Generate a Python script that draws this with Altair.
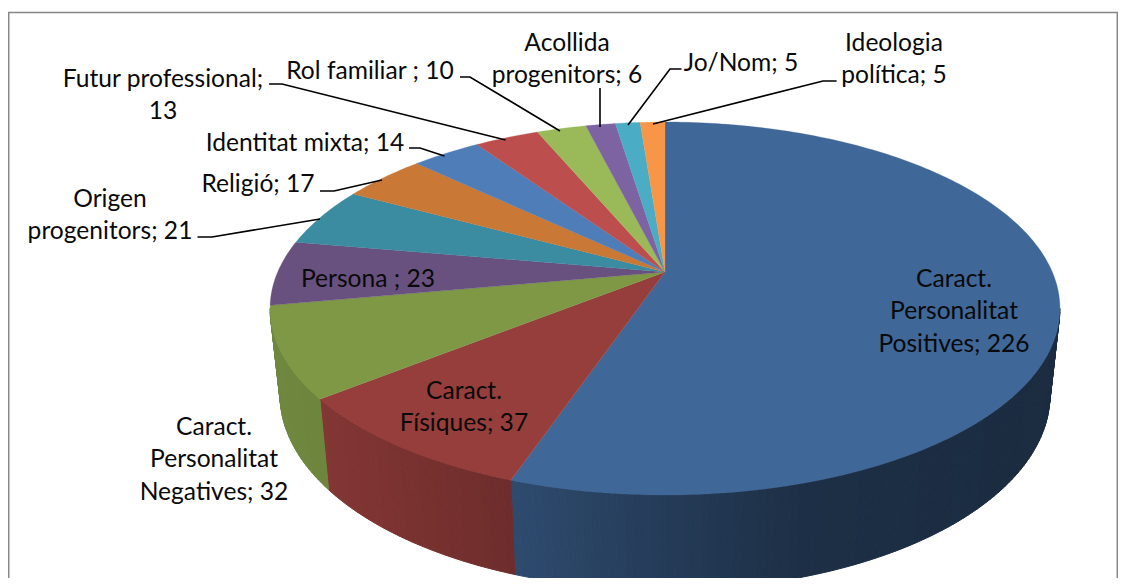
import math
import altair as alt

# --- chart values
categories = ["Caract. Personalitat Positives", "Caract. Físiques", "Caract. Personalitat Negatives",
              "Persona", "Origen progenitors", "Religió", "Identitat mixta", "Futur professional",
              "Rol familiar", "Acollida progenitors", "Jo/Nom", "Ideologia política"]
values = [226, 37, 32, 23, 21, 17, 14, 13, 10, 6, 5, 5]
labels = ["Caract.\nPersonalitat\nPositives; 226", "Caract.\nFísiques; 37", "Caract.\nPersonalitat\nNegatives; 32",
          "Persona ; 23", "Origen\nprogenitors; 21", "Religió; 17", "Identitat mixta; 14",
          "Futur professional;\n13", "Rol familiar ; 10", "Acollida\nprogenitors; 6", "Jo/Nom; 5",
          "Ideologia\npolítica; 5"]

# --- styles and layout (page pixels)
colors = [(63, 103, 152), (150, 62, 60), (126, 152, 70), (104, 80, 127), (59, 139, 161), (201, 120, 54),
          (79, 125, 184), (188, 79, 77), (154, 186, 89), (126, 99, 162), (75, 172, 198), (247, 150, 70)]
label_x = [954, 464, 214, 368, 110, 258, 305, 163, 370, 567, 741, 894]
label_y = [278, 390, 426, 278, 198, 183, 142, 78, 70, 42, 62, 42]
leaders = [
    [(269, 84), (282, 84), (505.6, 140)],
    [(460, 77), (470, 77), (560, 131)],
    [(409, 148), (420, 148), (444.5, 156)],
    [(320, 191), (334, 191), (382, 180)],
    [(197.5, 237), (212, 237), (320, 219)],
    [(600, 88), (600, 127)],
    [(681.5, 69), (670, 69), (628, 125)],
    [(836.6, 81), (823, 81), (653, 124)],
]
frame = [(8.7, 586), (8.7, 12.5), (1117.3, 12.5), (1117.3, 586)]
CX = 665
PERSP = -0.1957
TOP = dict(a=126.1, b=272.0, k=387.3)
BOTTOM = dict(a=117.7, b=356.8, k=377.5)
FONT = "Lato"
FONT_SIZE = 24.6
LINE_H = 32.5
TEXT_DY = 1.5


def rim(theta, f):
    u, v = math.sin(theta), -math.cos(theta)
    w = 1 + PERSP * v
    return (CX + f["k"] * u / w, (f["a"] * v + f["b"]) / w)


def hexa(c, s=1.0):
    return "#%02x%02x%02x" % tuple(int(round(x * s)) for x in c)


def shade(x):
    pts = [(270, .89), (330, .87), (510, .73), (620, .62), (800, .46), (1060, .42)]
    for (x0, s0), (x1, s1) in zip(pts, pts[1:]):
        if x <= x1:
            return s0 + (s1 - s0) * (x - x0) / (x1 - x0)
    return pts[-1][1]


def poly(points, fill, name):
    ring = [list(p) for p in points] + [list(points[0])]
    return {"type": "Feature", "properties": {"fill": fill, "name": name},
            "geometry": {"type": "Polygon", "coordinates": [ring]}}


def line(points, name):
    return {"type": "Feature", "properties": {"name": name},
            "geometry": {"type": "LineString", "coordinates": [list(p) for p in points]}}


total = sum(values)
edges = [0.0]
for v in values:
    edges.append(edges[-1] + v / total * 2 * math.pi)

VIS0, VIS1 = math.radians(101.3), math.radians(258.7)
STEP = math.radians(1.0)
walls, tops = [], []
for i, name in enumerate(categories):
    t0, t1 = edges[i], edges[i + 1]
    a, b = max(t0, VIS0), min(t1, VIS1)
    if b > a:
        n = max(1, int((b - a) / STEP))
        for j in range(n):
            s0, s1 = a + (b - a) * j / n, a + (b - a) * (j + 1) / n
            p = [rim(s0, TOP), rim(s1, TOP), rim(s1, BOTTOM), rim(s0, BOTTOM)]
            walls.append(poly(p, hexa(colors[i], shade(sum(q[0] for q in p) / 4)), name))
    n = max(2, int((t1 - t0) / math.radians(1)))
    arc = [rim(t0 + (t1 - t0) * j / n, TOP) for j in range(n + 1)]
    tops.append(poly([(CX, TOP["b"])] + arc, hexa(colors[i]), name))

proj = alt.Projection(type="identity", reflectY=False, scale=1, translate=[-8, -8])

wall_layer = alt.Chart(alt.Data(values=walls)).mark_geoshape(strokeWidth=1.0).encode(
    fill=alt.Fill("properties.fill:N", scale=None),
    stroke=alt.Stroke("properties.fill:N", scale=None),
).project(**proj.to_dict())
top_layer = alt.Chart(alt.Data(values=tops)).mark_geoshape(strokeWidth=0.3).encode(
    fill=alt.Fill("properties.fill:N", scale=None),
    stroke=alt.Stroke("properties.fill:N", scale=None),
).project(**proj.to_dict())
frame_layer = alt.Chart(alt.Data(values=[line(frame, "frame")])).mark_geoshape(
    filled=False, stroke="#868686", strokeWidth=1.5).project(**proj.to_dict())
leader_layer = alt.Chart(alt.Data(values=[line(l, "leader") for l in leaders])).mark_geoshape(
    filled=False, stroke="#000000", strokeWidth=1.6).project(**proj.to_dict())

text_rows = [{"label": t, "x": x, "y": y} for t, x, y in zip(labels, label_x, label_y)]
text_layer = alt.Chart(alt.Data(values=text_rows)).mark_text(
    font=FONT, fontSize=FONT_SIZE, color="#0a0a0a", align="center", baseline="middle",
    lineBreak="\n", lineHeight=LINE_H, dy=TEXT_DY,
).encode(
    x=alt.X("x:Q", axis=None, scale=alt.Scale(domain=[8, 1118], range=[0, 1110])),
    y=alt.Y("y:Q", axis=None, scale=alt.Scale(domain=[8, 578], range=[0, 570])),
    text="label:N",
)

chart = alt.layer(frame_layer, wall_layer, top_layer, leader_layer, text_layer).properties(
    width=1110, height=570, padding=0, autosize=alt.AutoSizeParams(type="none"),
    background="white",
).configure_view(stroke=None)

chart.save("out.html", embed_options={"renderer": "svg", "actions": False})
